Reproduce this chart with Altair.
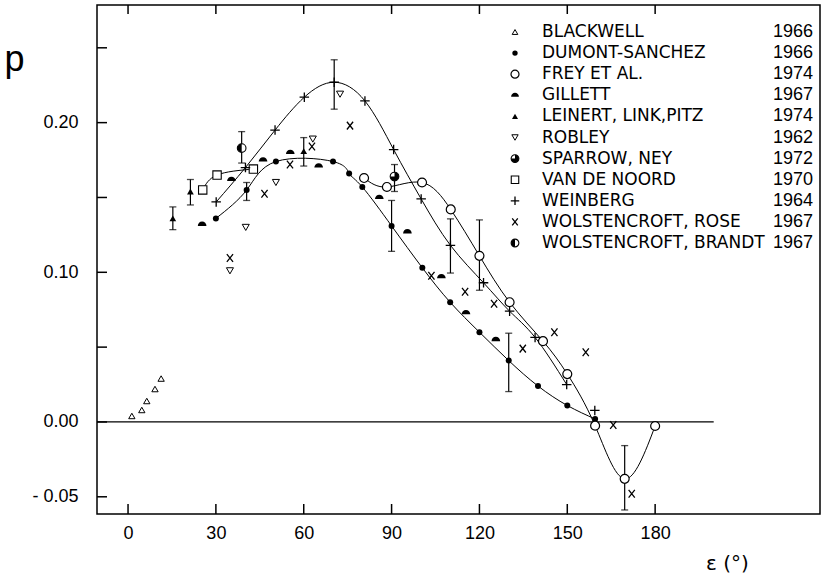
import altair as alt
import pandas as pd

# ---------------- data ----------------
BLACKWELL_X = [1.3, 4.7, 6.4, 9.2, 11.3]
BLACKWELL_P = [0.004, 0.008, 0.014, 0.022, 0.029]

DUMONT_X = [30.0, 40.5, 50.5, 70.0, 75.5, 80.0, 90.0, 100.5, 110.0, 120.0, 130.0, 140.0, 150.0, 159.5]
DUMONT_P = [0.136, 0.155, 0.174, 0.174, 0.166, 0.157, 0.131, 0.103, 0.080, 0.060, 0.041, 0.024, 0.011, 0.002]

FREY_X = [80.6, 88.4, 100.4, 110.2, 120.0, 130.3, 141.7, 150.0, 159.5, 169.6, 180.0]
FREY_P = [0.163, 0.157, 0.160, 0.142, 0.111, 0.080, 0.054, 0.032, -0.0025, -0.038, -0.0027]

GILLETT_X = [25.3, 35.3, 46.1, 55.4, 65.1, 85.8, 95.4, 107.0, 115.4, 125.6]
GILLETT_P = [0.132, 0.162, 0.175, 0.180, 0.171, 0.150, 0.127, 0.097, 0.073, 0.055]

LEINERT_X = [15.3, 21.3, 60.0]
LEINERT_P = [0.136, 0.154, 0.181]

ROBLEY_X = [34.8, 40.2, 50.5, 63.1, 72.4]
ROBLEY_P = [0.101, 0.130, 0.160, 0.189, 0.219]

SPARROW_X = [91.0]
SPARROW_P = [0.164]

WBRANDT_X = [38.8]
WBRANDT_P = [0.183]

VDN_X = [25.5, 30.4, 42.8]
VDN_P = [0.155, 0.165, 0.169]

WEINBERG_X = [30.1, 40.1, 50.2, 60.2, 70.4, 80.9, 90.7, 100.1, 110.1, 121.4, 130.3, 139.0, 149.8, 159.4]
WEINBERG_P = [0.147, 0.170, 0.195, 0.217, 0.227, 0.2145, 0.182, 0.149, 0.118, 0.093, 0.074, 0.0565, 0.025, 0.0077]
WEINBERG_LINE_N = 13  # curve drawn through the first 13 points

WROSE_X = [34.8, 46.6, 55.3, 62.8, 75.8, 103.6, 115.1, 125.0, 134.8, 145.6, 156.3, 165.7, 172.0]
WROSE_P = [0.1095, 0.1525, 0.172, 0.184, 0.198, 0.0977, 0.087, 0.079, 0.049, 0.060, 0.0466, -0.002, -0.048]

# error bars: x, low, high
ERR_X = [15.3, 21.3, 38.8, 40.5, 60.0, 70.4, 90.0, 91.0, 110.1, 120.0, 130.0, 169.6]
ERR_LO = [0.1285, 0.145, 0.173, 0.148, 0.171, 0.209, 0.114, 0.154, 0.0995, 0.088, 0.0203, -0.0588]
ERR_HI = [0.1437, 0.162, 0.194, 0.160, 0.190, 0.242, 0.148, 0.172, 0.1357, 0.135, 0.0593, -0.0158]

ZERO_LINE_X = [-10.6, 200.0]

LEGEND_NAMES = ["BLACKWELL", "DUMONT-SANCHEZ", "FREY ET AL.", "GILLETT", "LEINERT, LINK,PITZ",
                "ROBLEY", "SPARROW, NEY", "VAN DE NOORD", "WEINBERG", "WOLSTENCROFT, ROSE",
                "WOLSTENCROFT, BRANDT"]
LEGEND_YEARS = ["1966", "1966", "1974", "1967", "1974", "1962", "1972", "1970", "1964", "1967", "1967"]

X_TICKS = [0, 30, 60, 90, 120, 150, 180]
Y_TICKS = [-0.05, 0.0, 0.05, 0.10, 0.15, 0.20, 0.25]
Y_LABELS = [0.20, 0.10, 0.0, -0.05]

# ---------------- layout / style ----------------
W, H = 723, 509
X_DOMAIN = [-10.6, 236.3]
Y_DOMAIN = [-0.0615, 0.2786]
LEG_SYM_X, LEG_TXT_X, LEG_YEAR_X = 418, 445, 716
LEG_Y0, LEG_DY = 27, 21.1

xs = alt.Scale(domain=X_DOMAIN, nice=False, zero=False)
ys = alt.Scale(domain=Y_DOMAIN, nice=False, zero=False)

AX_X = alt.Axis(
    values=X_TICKS, ticks=False, tickSize=0, domain=False, grid=False,
    labelFont="Liberation Sans", labelFontSize=18, labelColor="black", labelPadding=10,
    title="ε (°)", titleFont="DejaVu Sans", titleFontSize=20, titleFontWeight="normal",
    titleColor="black", titleX=630, titleY=55, titleAlign="center", titleBaseline="alphabetic")
AX_Y = alt.Axis(
    values=Y_LABELS, ticks=False, tickSize=0, domain=False, grid=False,
    labelExpr="datum.value < 0 ? '- ' + format(-datum.value, '.2f') : format(datum.value, '.2f')",
    labelFont="Liberation Sans", labelFontSize=18, labelColor="black", labelPadding=19,
    title="p", titleFont="Liberation Sans", titleFontSize=36, titleFontWeight="normal",
    titleColor="black", titleAngle=0, titleX=-83, titleY=65, titleAlign="center",
    titleBaseline="alphabetic")


def XQ(field):
    return alt.X(field, type="quantitative", scale=xs, axis=AX_X)


def YQ(field):
    return alt.Y(field, type="quantitative", scale=ys, axis=AX_Y)


PLUS = "M-1,0 L1,0 M0,-1 L0,1"
XMARK = "M-0.8,-1 L0.8,1 M-0.8,1 L0.8,-1"
DOME = "M-1,0.35 A1,1 0 0,1 1,0.35 Z"
LEFT_HALF = "M0,-1 A1,1 0 0,0 0,1 Z"
SPARROW_FILL = "M0,-1 A1,1 0 1,1 -1,0 L0,0 Z"

STYLES = {
    "BLACKWELL": [dict(shape="triangle-up", filled=False, stroke="black", strokeWidth=1, size=40)],
    "DUMONT-SANCHEZ": [dict(shape="circle", filled=True, color="black", size=36)],
    "FREY ET AL.": [dict(shape="circle", filled=True, fill="white", stroke="black", strokeWidth=1.2, size=80)],
    "GILLETT": [dict(shape=DOME, filled=True, color="black", size=75)],
    "LEINERT, LINK,PITZ": [dict(shape="triangle-up", filled=True, color="black", size=45)],
    "ROBLEY": [dict(shape="triangle-down", filled=False, stroke="black", strokeWidth=1, size=50)],
    "SPARROW, NEY": [dict(shape="circle", filled=True, fill="white", stroke="black", strokeWidth=1.1, size=75),
                     dict(shape=SPARROW_FILL, filled=True, color="black", size=75)],
    "VAN DE NOORD": [dict(shape="square", filled=True, fill="white", stroke="black", strokeWidth=1.1, size=70)],
    "WEINBERG": [dict(shape=PLUS, filled=False, stroke="black", strokeWidth=1.3, size=90)],
    "WOLSTENCROFT, ROSE": [dict(shape=XMARK, filled=False, stroke="black", strokeWidth=1.3, size=60)],
    "WOLSTENCROFT, BRANDT": [dict(shape="circle", filled=True, fill="white", stroke="black", strokeWidth=1.1, size=75),
                             dict(shape=LEFT_HALF, filled=True, color="black", size=75)],
}

SERIES = {
    "BLACKWELL": (BLACKWELL_X, BLACKWELL_P),
    "DUMONT-SANCHEZ": (DUMONT_X, DUMONT_P),
    "FREY ET AL.": (FREY_X, FREY_P),
    "GILLETT": (GILLETT_X, GILLETT_P),
    "LEINERT, LINK,PITZ": (LEINERT_X, LEINERT_P),
    "ROBLEY": (ROBLEY_X, ROBLEY_P),
    "SPARROW, NEY": (SPARROW_X, SPARROW_P),
    "VAN DE NOORD": (VDN_X, VDN_P),
    "WEINBERG": (WEINBERG_X, WEINBERG_P),
    "WOLSTENCROFT, ROSE": (WROSE_X, WROSE_P),
    "WOLSTENCROFT, BRANDT": (WBRANDT_X, WBRANDT_P),
}


def df(x, p):
    return pd.DataFrame({"x": x, "p": p})


def enc_xy(ch):
    return ch.encode(x=XQ("x"), y=YQ("p"))


layers = []

# zero line
zero = pd.DataFrame({"x0": [ZERO_LINE_X[0]], "x1": [ZERO_LINE_X[1]], "y0": [0.0]})
layers.append(
    alt.Chart(zero).mark_rule(color="black", strokeWidth=1.3).encode(
        x=XQ("x0"), x2="x1:Q", y=YQ("y0")))

# inward ticks
xt = pd.DataFrame({"v": X_TICKS})
yt = pd.DataFrame({"v": Y_TICKS})
layers.append(alt.Chart(xt).mark_rule(color="black", strokeWidth=1.5).encode(
    x=XQ("v"), y=alt.value(0), y2=alt.value(9)))
layers.append(alt.Chart(xt).mark_rule(color="black", strokeWidth=1.5).encode(
    x=XQ("v"), y=alt.value(H), y2=alt.value(H - 10)))
layers.append(alt.Chart(yt).mark_rule(color="black", strokeWidth=1.5).encode(
    y=YQ("v"), x=alt.value(0), x2=alt.value(10)))

# fitted curves
for xv, pv in [(WEINBERG_X[:WEINBERG_LINE_N], WEINBERG_P[:WEINBERG_LINE_N]),
               (DUMONT_X, DUMONT_P), (FREY_X, FREY_P), (VDN_X, VDN_P)]:
    layers.append(enc_xy(alt.Chart(df(xv, pv)).mark_line(
        color="black", strokeWidth=1, interpolate="natural")))

# error bars
err = pd.DataFrame({"x": ERR_X, "lo": ERR_LO, "hi": ERR_HI})
layers.append(alt.Chart(err).mark_rule(color="black", strokeWidth=1.2).encode(
    x=XQ("x"), y=YQ("lo"), y2="hi:Q"))
for f in ["lo", "hi"]:
    layers.append(alt.Chart(err).mark_tick(color="black", orient="horizontal", size=7, thickness=1.3).encode(
        x=XQ("x"), y=YQ(f)))

# data points
for name, (xv, pv) in SERIES.items():
    for st in STYLES[name]:
        layers.append(enc_xy(alt.Chart(df(xv, pv)).mark_point(opacity=1, **st)))

# legend
leg = pd.DataFrame({"i": list(range(len(LEGEND_NAMES))), "name": LEGEND_NAMES, "year": LEGEND_YEARS})
for i, name in enumerate(LEGEND_NAMES):
    for st in STYLES[name]:
        st2 = dict(st)
        st2["size"] = st["size"] * 0.8
        layers.append(alt.Chart(leg.iloc[[i]]).mark_point(opacity=1, **st2).encode(
            x=alt.value(LEG_SYM_X), y=alt.value(LEG_Y0 + LEG_DY * i)))

layers.append(alt.Chart(leg).transform_calculate(ly=f"{LEG_Y0} + {LEG_DY} * datum.i").mark_text(
    align="left", baseline="middle", font="DejaVu Sans", fontSize=17, color="black").encode(
    x=alt.value(LEG_TXT_X), y=alt.Y("ly:Q", scale=None, axis=None), text="name:N"))
layers.append(alt.Chart(leg).transform_calculate(ly=f"{LEG_Y0} + {LEG_DY} * datum.i").mark_text(
    align="right", baseline="middle", font="Liberation Sans", fontSize=18, color="black").encode(
    x=alt.value(LEG_YEAR_X), y=alt.Y("ly:Q", scale=None, axis=None), text="year:N"))

chart = alt.layer(*layers).properties(
    width=W, height=H,
    padding={"left": 97, "top": 5, "right": 2, "bottom": 60},
    autosize=alt.AutoSizeParams(type="none"),
    background="white",
).configure_view(stroke="black", strokeWidth=1.5)

chart.save("out.html", embed_options={"renderer": "svg", "actions": False})
